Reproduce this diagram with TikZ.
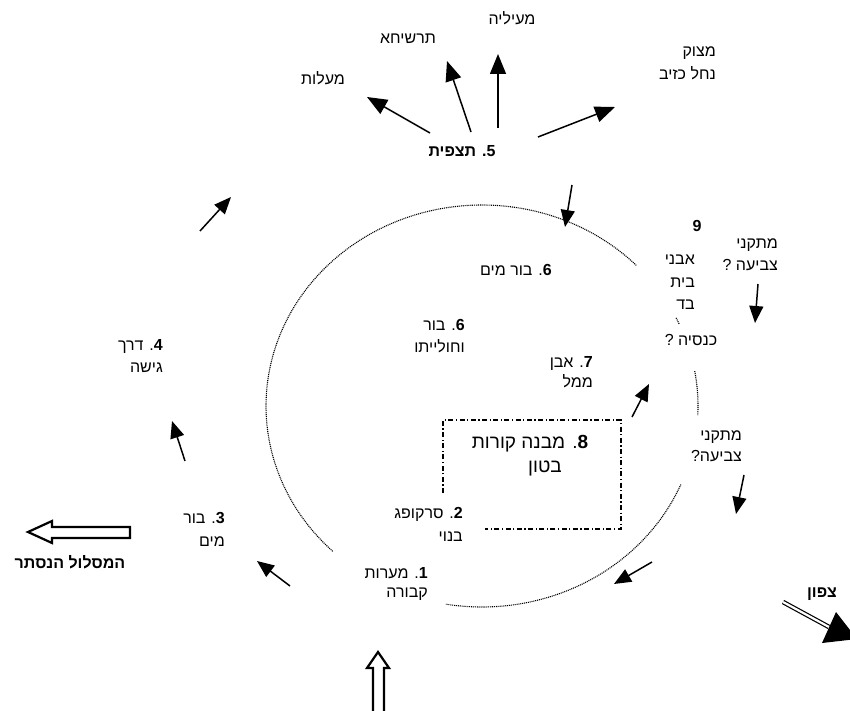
\documentclass[tikz,border=0pt]{standalone}
\usepackage{fontspec}
\usetikzlibrary{arrows.meta}
\TeXXeTstate=1
\newfontfamily\hebfont[Script=Hebrew]{Liberation Sans}
\newcommand\hebr[1]{\beginR#1\endR}
\begin{document}
\begin{tikzpicture}[x=1pt,y=-1pt,
  every node/.style={font=\hebfont\fontsize{16}{22}\selectfont, inner sep=0pt},
  lbl/.style={align=right, anchor=north east},
  arr/.style={line width=1.5pt, -{Triangle[length=20pt,width=16pt]}},
  sarr/.style={line width=1.5pt, -{Triangle[length=17pt,width=14pt]}},
  ring/.style={line width=1.1pt, dash pattern=on 1pt off 0.9pt},
  hollow/.style={line width=2.2pt, line join=miter},
  boxline/.style={line width=1.2pt, dash pattern=on 5pt off 2.5pt on 1.2pt off 2.5pt}
]
\useasboundingbox (0,0) rectangle (850,711);

% ring (site outline)
\draw[ring] plot[domain=133.7:315.6, samples=150, smooth] ({482+216*cos(\x)},{406+201*sin(\x)});
\draw[ring] plot[domain=23:99.7, samples=80, smooth] ({482+216*cos(\x)},{406+201*sin(\x)});
\draw[ring] plot[domain=-10:2.6, samples=20, smooth] ({482+216*cos(\x)},{406+201*sin(\x)});
\draw[ring] plot[domain=-26:-24, samples=4] ({482+216*cos(\x)},{406+201*sin(\x)});

% dash-dot structure box (open at the lower left corner)
\draw[boxline] (443,493) -- (443,420) -- (621,420) -- (621,529) -- (485,529);

% labels
\node (maal) at (512,18) {\hebr{מעיליה}};
\node (tarsh) at (408,39) {\hebr{תרשיחא}};
\node (maalot) at (323,78) {\hebr{מעלות}};
\node[lbl, font=\hebfont\fontsize{16}{23}\selectfont] (metzuk) at (716,47) {\hebr{מצוק}\\\hebr{נחל כזיב}};
\node[font=\hebfont\bfseries\fontsize{16}{22}\selectfont] (tatz) at (462,151) {\hebr{5\kern0pt. תצפית}};

\node[lbl] (derech) at (163,339) {\hebr{\textbf{4}. דרך}\\\hebr{גישה}};
\node[lbl, font=\hebfont\fontsize{16}{23}\selectfont] (bor3) at (225,512) {\hebr{\textbf{3}. בור}\\\hebr{מים}};
\node[lbl, font=\hebfont\fontsize{16}{19}\selectfont] (mearot) at (428,567) {\hebr{\textbf{1}. מערות}\\\hebr{קבורה}};
\node[lbl, font=\hebfont\fontsize{16}{23}\selectfont] (sark) at (463,507) {\hebr{\textbf{2}. סרקופג}\\\hebr{בנוי}};
\node (bor6a) at (516,270) {\hebr{\textbf{6}. בור מים}};
\node[lbl] (bor6b) at (465,319) {\hebr{\textbf{6}. בור}\\\hebr{וחולייתו}};
\node[lbl, font=\hebfont\fontsize{16}{20}\selectfont] (even) at (593,356) {\hebr{\textbf{7}. אבן}\\\hebr{ממל}};
\node[font=\hebfont\fontsize{19}{24}\selectfont] (mivne) at (530,444) {\hebr{\textbf{8}. מבנה קורות}};
\node[font=\hebfont\fontsize{19}{24}\selectfont] (beton) at (545,468) {\hebr{בטון}};
\node[font=\hebfont\bfseries\fontsize{16}{22}\selectfont] (nine) at (697,226) {9};
\node[lbl, font=\hebfont\fontsize{16}{22.5}\selectfont] (avnei) at (695,255) {\hebr{אבני}\\\hebr{בית}\\\hebr{בד}};
\node (knesia) at (691,340) {\hebr{כנסיה ?}};
\node[lbl] (mitk1) at (778,239) {\hebr{מתקני}\\\hebr{צביעה ?}};
\node[lbl, font=\hebfont\fontsize{16}{21}\selectfont] (mitk2) at (742,431) {\hebr{מתקני}\\\hebr{צביעה\kern0pt?}};
\node[font=\hebfont\bfseries\fontsize{16}{22}\selectfont] (maslul) at (70,562) {\hebr{המסלול הנסתר}};
\node[font=\hebfont\bfseries\fontsize{16}{22}\selectfont] (tzafon) at (822,594) {\hebr{צפון}};

% arrow end points
\coordinate (t1) at (430,133); \coordinate (h1) at (367,97);
\coordinate (t2) at (471,132); \coordinate (h2) at (447,61);
\coordinate (t3) at (498,128); \coordinate (h3) at (498,54);
\coordinate (t4) at (538,137); \coordinate (h4) at (615,107);
\coordinate (t5) at (572,185); \coordinate (h5) at (565,227);
\coordinate (t6) at (200,231); \coordinate (h6) at (231,197);
\coordinate (t7) at (185,461); \coordinate (h7) at (172,421);
\coordinate (t8) at (290,586); \coordinate (h8) at (257,561);
\coordinate (t9) at (632,417); \coordinate (h9) at (649,384);
\coordinate (t10) at (758,284); \coordinate (h10) at (755,323);
\coordinate (t11) at (744,475); \coordinate (h11) at (736,514);
\coordinate (t12) at (652,562); \coordinate (h12) at (614,584);

\draw[arr] (t1) -- (h1);
\draw[arr] (t2) -- (h2);
\draw[arr] (t3) -- (h3);
\draw[arr] (t4) -- (h4);
\draw[sarr] (t5) -- (h5);
\draw[sarr] (t6) -- (h6);
\draw[sarr] (t7) -- (h7);
\draw[sarr] (t8) -- (h8);
\draw[sarr] (t9) -- (h9);
\draw[sarr] (t10) -- (h10);
\draw[sarr] (t11) -- (h11);
\draw[sarr] (t12) -- (h12);

% hollow arrows
\draw[hollow] (28,532) -- (52,521) -- (52,527) -- (130,527) -- (130,538) -- (52,538) -- (52,543) -- cycle;
\draw[hollow] (384,711) -- (384,668) -- (389,668) -- (378,652) -- (367,668) -- (373,668) -- (373,711);

% north arrow
\coordinate (ns) at (783,602); \coordinate (nb) at (829,627);
\draw[line width=1.2pt, double, double distance=2.2pt] (ns) -- (nb);
\fill (857,639) -- (822,643) -- (836,612) -- cycle;
\end{tikzpicture}
\end{document}
